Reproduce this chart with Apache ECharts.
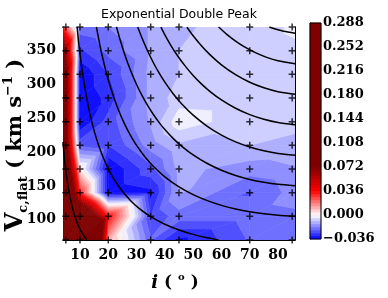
<!DOCTYPE html>
<html><head><meta charset="utf-8">
<script src="https://cdn.jsdelivr.net/npm/echarts@6/dist/echarts.min.js"></script>
<style>html,body{margin:0;padding:0;background:#fff}#c{width:388px;height:298px}</style>
</head><body><div id="c"></div>
<script>
// ---------------- data ----------------
const iValues = [5, 10, 20, 35, 45, 70, 85];                       // inclination grid (deg)
const vValues = [70, 105, 140, 175, 210, 245, 280, 315, 350, 385]; // Vc,flat grid (km/s)
// residual value at each grid node, rows follow vValues (bottom -> top), columns follow iValues
const row70  = [0.288, 0.250, 0.012, -0.022, -0.033, -0.022, -0.020];
const row105 = [0.220, 0.120, 0.035, -0.027, -0.020, -0.020, -0.019];
const row140 = [0.150, 0.030, -0.036, -0.033, -0.013, -0.023, -0.016];
const row175 = [0.120, 0.003, -0.036, -0.024, -0.012, -0.016, -0.014];
const row210 = [0.100, -0.024, -0.027, -0.016, -0.010, -0.009, -0.010];
const row245 = [0.100, -0.036, -0.025, -0.013, -0.0015, -0.008, -0.008];
const row280 = [0.100, -0.036, -0.030, -0.012, -0.007, -0.008, -0.006];
const row315 = [0.100, -0.036, -0.027, -0.012, -0.009, -0.008, -0.007];
const row350 = [0.080, -0.028, -0.021, -0.013, -0.009, -0.006, -0.005];
const row385 = [0.030, -0.020, -0.018, -0.013, -0.010, -0.006, -0.004];
const residualRows = [row70, row105, row140, row175, row210, row245, row280, row315, row350, row385];

const xTickLabels = [10, 20, 30, 40, 50, 60, 70, 80];
const yTickLabels = [100, 150, 200, 250, 300, 350];
const cbarTicks = [-0.036, 0, 0.036, 0.072, 0.108, 0.144, 0.180, 0.216, 0.252, 0.288];

// black curves, [i, V] points
const curveA = [[4,215],[4.5,191],[5,172],[6,144],[7,123],[8,108],[9,96],[10,86],[11,79],[12.4,70]];
const curveB = [[9,385],[9.5,363],[10,345.5],[11,314.6],[12,288.6],[13,266.7],[14,248],[15,231.8],[16,217.7],[17,205.2],[18,194.2],[20,175.4],[22,160.2],[25,142],[28,127.8],[31,116.5],[35,104.6],[40,93.3],[45,84.9],[50,78.3],[55,73.2],[59,70]];
const curveC = [[15.8,385.3],[17,359],[18,339.8],[19,322.5],[20,307],[22,280.3],[24,258.1],[26,239.5],[28,223.7],[30,210],[33,192.8],[36,178.6],[40,163.4],[45,148.5],[50,137.1],[55,128.2],[60,121.2],[65,115.9],[70,111.7],[75,108.7],[80,106.6],[86,105.3]];
const curveD = [[22.9,385.3],[24,368.8],[26,342.2],[28,319.5],[30,300],[32,283],[34,268.2],[36,255.2],[38,243.6],[40,233.4],[43,219.9],[46,208.5],[50,195.8],[55,183.1],[60,173.2],[65,165.5],[70,159.6],[75,155.3],[80,152.3],[86,150.4]];
const curveE = [[30.4,385],[32,368],[34,348.7],[36,331.8],[38,316.7],[40,303.4],[43,285.9],[46,271.1],[50,254.6],[55,238.1],[60,225.2],[65,215.2],[70,207.5],[75,201.9],[80,198],[86,195.5]];
const curveF = [[38.6,384.7],[40,373.4],[42,358.7],[44,345.5],[47,328.2],[50,313.3],[53,300.5],[56,289.5],[60,277.1],[65,264.8],[70,255.4],[75,248.5],[80,243.7],[86,240.6]];
const curveG = [[47.8,384.7],[50,372.1],[53,356.9],[56,343.8],[60,329.1],[65,314.5],[70,303.3],[75,295.1],[80,289.4],[86,285.7]];
const curveH = [[59,385],[62,373.8],[65,364.1],[68,355.9],[72,347],[76,340.1],[80,335.1],[86,330.8]];
const curveI = [[76.9,385],[79,382],[82,378.7],[86,375.9]];
const curves = [curveA, curveB, curveC, curveD, curveE, curveF, curveG, curveH, curveI];

// ---------------- scales / styling ----------------
const xMin = 4, xMax = 86, yMin = 70, yMax = 385;
const levelMin = -0.036, levelMax = 0.288, levelStep = 0.0045;
const levels = [];
for (let k = 0; levelMin + k * levelStep <= levelMax + 1e-9; k++) levels.push(+(levelMin + k * levelStep).toFixed(5));
const bands = [];
for (let k = 0; k < levels.length - 1; k++) bands.push([levels[k], levels[k + 1]]);

function cmap(v) {
  let r, g, b;
  if (v <= -0.036) { r = 0; g = 0; b = 255; }
  else if (v <= 0) { const t = (v + 0.036) / 0.036; r = 255 * t; g = 255 * t; b = 255; }
  else if (v <= 0.036) { const t = v / 0.036; r = 255; g = 255 * (1 - t); b = 255 * (1 - t); }
  else if (v <= 0.072) { const t = (v - 0.036) / 0.036; r = 255 - 127 * t; g = 0; b = 0; }
  else { r = 128; g = 0; b = 0; }
  return 'rgb(' + Math.round(r) + ',' + Math.round(g) + ',' + Math.round(b) + ')';
}
function bandColor(k) {
  const b = bands[k];
  return cmap((b[0] + b[1]) / 2);
}

function colPos(c) { return c === 0 ? xMin : (c === iValues.length - 1 ? xMax : iValues[c]); }

function clip(poly, lev, keepAbove) {
  const out = [];
  for (let k = 0; k < poly.length; k++) {
    const a = poly[k], b = poly[(k + 1) % poly.length];
    const ina = keepAbove ? a[2] >= lev : a[2] <= lev;
    const inb = keepAbove ? b[2] >= lev : b[2] <= lev;
    if (ina) out.push(a);
    if (ina !== inb) {
      const t = (lev - a[2]) / (b[2] - a[2]);
      out.push([a[0] + t * (b[0] - a[0]), a[1] + t * (b[1] - a[1]), lev]);
    }
  }
  return out;
}

const cellData = [];
for (let r = 0; r < vValues.length - 1; r++)
  for (let c = 0; c < iValues.length - 1; c++) cellData.push([c, r]);

function renderCell(params, api) {
  const c = api.value(0), r = api.value(1);
  const node = (cc, rr) => {
    const p = api.coord([colPos(cc), vValues[rr]]);
    return [p[0], p[1], residualRows[rr][cc]];
  };
  const bl = node(c, r), br = node(c + 1, r), tr = node(c + 1, r + 1), tl = node(c, r + 1);
  const tris = [[bl, br, tr], [bl, tr, tl]];
  const children = [];
  tris.forEach(tri => {
    const vs = tri.map(p => p[2]);
    const lo = Math.min.apply(null, vs), hi = Math.max.apply(null, vs);
    for (let k = 0; k < bands.length; k++) {
      const bLo = k === 0 ? -Infinity : bands[k][0];
      const bHi = k === bands.length - 1 ? Infinity : bands[k][1];
      if (bHi < lo || bLo > hi) continue;
      let poly = tri;
      if (isFinite(bLo)) poly = clip(poly, bLo, true);
      if (poly.length >= 3 && isFinite(bHi)) poly = clip(poly, bHi, false);
      if (poly.length < 3) continue;
      const col = bandColor(k);
      children.push({ type: 'polygon', shape: { points: poly.map(p => [p[0], p[1]]) },
        style: { fill: col, stroke: col, lineWidth: 0.6 } });
    }
  });
  return { type: 'group', children: children };
}

function renderBand(params, api) {
  const k = api.value(0);
  const p0 = api.coord([0, bands[k][0]]);
  const p1 = api.coord([1, bands[k][1]]);
  const col = bandColor(k);
  return { type: 'rect', shape: { x: p0[0], y: p1[1], width: p1[0] - p0[0], height: p0[1] - p1[1] },
    style: { fill: col, stroke: col, lineWidth: 0.5 } };
}

const markerData = [];
vValues.forEach(v => iValues.forEach(i => markerData.push([i, v])));

const minorX = []; for (let k = 5; k <= 85; k++) if (k % 10) minorX.push(k);
const minorY = []; for (let k = 75; k <= 385; k += 5) if (k % 50) minorY.push(k);

const serif = 'DejaVu Serif';
const tickFont = { fontFamily: serif, fontWeight: 'bold', fontSize: 14, color: '#000' };
const black = { color: '#000', width: 1 };

function xAx(pos, major, labels) {
  return {
    type: 'value', gridIndex: 0, position: pos, min: xMin, max: xMax,
    axisLine: { show: major, onZero: false, lineStyle: black },
    axisTick: { show: true, inside: true, length: major ? 5 : 2.5, lineStyle: black,
      customValues: major ? xTickLabels : minorX },
    axisLabel: Object.assign({ show: labels, margin: 8, customValues: xTickLabels }, tickFont),
    splitLine: { show: false }
  };
}
function yAx(pos, major, labels) {
  return {
    type: 'value', gridIndex: 0, position: pos, min: yMin, max: yMax,
    axisLine: { show: major, onZero: false, lineStyle: black },
    axisTick: { show: true, inside: true, length: major ? 5 : 2.5, lineStyle: black,
      customValues: major ? yTickLabels : minorY },
    axisLabel: Object.assign({ show: labels, margin: 7, customValues: yTickLabels }, tickFont),
    splitLine: { show: false }
  };
}

const chart = echarts.init(document.getElementById('c'), null, { renderer: 'canvas' });
const series = [
  { type: 'custom', xAxisIndex: 0, yAxisIndex: 0, coordinateSystem: 'cartesian2d',
    renderItem: renderCell, data: cellData, clip: true, silent: true, z: 1 },
  { type: 'custom', xAxisIndex: 4, yAxisIndex: 4, coordinateSystem: 'cartesian2d',
    renderItem: renderBand, data: bands.map((b, k) => [k]), silent: true, z: 1 }
];
curves.forEach(cv => series.push({
  type: 'line', xAxisIndex: 0, yAxisIndex: 0, data: cv, smooth: 0.25,
  showSymbol: false, symbol: 'none', clip: true, silent: true, z: 3,
  lineStyle: { color: '#000', width: 1.5 }
}));
series.push({
  type: 'scatter', xAxisIndex: 0, yAxisIndex: 0, data: markerData, silent: true, z: 4,
  symbol: 'path://M0,2.35H2.35V0H3.65V2.35H6V3.65H3.65V6H2.35V3.65H0Z', symbolSize: 7,
  itemStyle: { color: '#000' }, clip: false
});

chart.setOption({
  animation: false,
  backgroundColor: '#fff',
  grid: [
    { left: 63, top: 27, width: 232, height: 213, containLabel: false },
    { left: 310, top: 23, width: 11, height: 216, containLabel: false }
  ],
  xAxis: [
    xAx('bottom', true, true), xAx('bottom', false, false),
    xAx('top', true, false), xAx('top', false, false),
    { type: 'value', gridIndex: 1, min: 0, max: 1, show: false }
  ],
  yAxis: [
    yAx('left', true, true), yAx('left', false, false),
    yAx('right', true, false), yAx('right', false, false),
    { type: 'value', gridIndex: 1, position: 'right', min: -0.036, max: 0.288,
      axisLine: { show: true, lineStyle: black },
      axisTick: { show: false, customValues: cbarTicks },
      axisLabel: Object.assign({ margin: 2, customValues: cbarTicks,
        formatter: v => (v < 0 ? '\u2212' : '') + Math.abs(v).toFixed(3) }, tickFont, { fontSize: 13 }),
      splitLine: { show: false } }
  ],
  series: series,
  graphic: [
    { type: 'rect', shape: { x: 310, y: 23, width: 11, height: 216 }, z: 10,
      style: { fill: 'none', stroke: '#000', lineWidth: 1 } },
    { type: 'text', x: 179, y: 15, z: 10,
      style: { text: 'Exponential Double Peak', font: '12.5px "DejaVu Sans"', fill: '#000',
        textAlign: 'center', textVerticalAlign: 'middle' } },
    { type: 'text', x: 175, y: 283, z: 10,
      style: { text: '{i|i}{n| ( }{s|o}{n| )}', textAlign: 'center', textVerticalAlign: 'middle',
        rich: {
          i: { fontFamily: serif, fontWeight: 'bold', fontStyle: 'italic', fontSize: 18, lineHeight: 22, verticalAlign: 'middle' },
          n: { fontFamily: serif, fontWeight: 'bold', fontSize: 17, lineHeight: 22, verticalAlign: 'middle' },
          s: { fontFamily: serif, fontWeight: 'bold', fontSize: 10, lineHeight: 22, verticalAlign: 'top' }
        } } },
    { type: 'text', x: 16, y: 145, rotation: Math.PI / 2, z: 10,
      style: { text: '{v|V}{b|c,flat}{n| ( km s}{p|\u22121}{n| )}', textAlign: 'center', textVerticalAlign: 'middle',
        rich: {
          v: { fontFamily: serif, fontWeight: 'bold', fontSize: 24, lineHeight: 28, verticalAlign: 'middle' },
          b: { fontFamily: serif, fontWeight: 'bold', fontSize: 13, lineHeight: 28, verticalAlign: 'bottom' },
          n: { fontFamily: serif, fontWeight: 'bold', fontSize: 21, lineHeight: 28, verticalAlign: 'middle' },
          p: { fontFamily: serif, fontWeight: 'bold', fontSize: 13, lineHeight: 28, verticalAlign: 'top' }
        } } }
  ]
});
</script></body></html>
